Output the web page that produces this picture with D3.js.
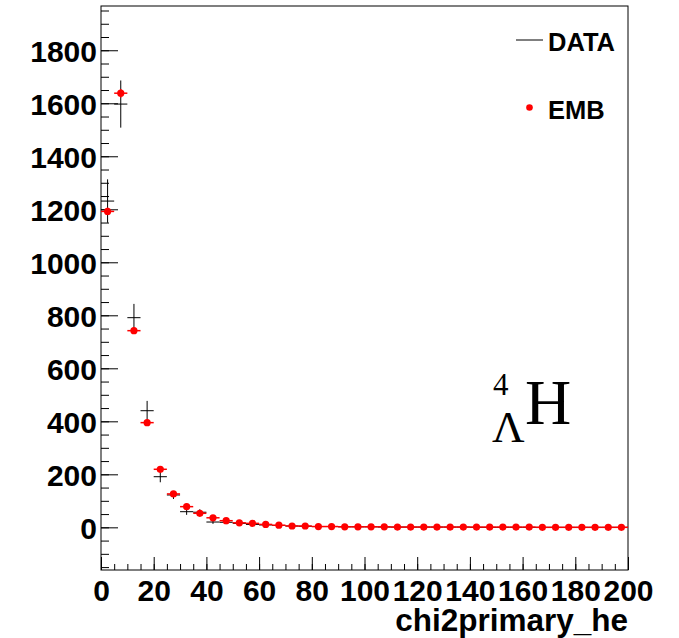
<!DOCTYPE html>
<html>
<head>
<meta charset="utf-8">
<script src="https://cdn.jsdelivr.net/npm/d3@7"></script>
<style>
  html, body { margin: 0; padding: 0; background: #fff; }
  svg { display: block; }
  .lbl { font-family: "Liberation Sans", Arial, Helvetica, sans-serif; font-weight: bold; fill: #000; }
  .tex { font-family: "Liberation Serif", "Times New Roman", serif; fill: #000; }
</style>
</head>
<body>
<svg id="chart" width="679" height="638"></svg>
<script>
// Histogram binning of chi2primary_he (bin width 5, range 0-200)
const binEdges = d3.range(0, 205, 5);
const binCenters = d3.range(2.5, 200, 5);

// Measured data counts and their uncertainties
const dataValues = [1231, 1597, 791, 440, 191, 122, 59, 57, 20, 19,
                    15, 11, 9, 7, 5, 4, 3, 3, 2, 2,
                    2, 1, 1, 1, 1, 1, 1, 1, 0, 0,
                    0, 0, 0, 0, 0, 0, 0, 0, 0, 0];
const dataErrors = [82, 89, 52, 37, 21, 15, 12, 11, 7, 7,
                    6, 5, 5, 4, 3, 3, 3, 3, 2, 2,
                    2, 1, 1, 1, 1, 1, 1, 1, 0, 0,
                    0, 0, 0, 0, 0, 0, 0, 0, 0, 0];

// Embedding (simulation) counts and their uncertainties
const embValues = [1192, 1638, 742, 395, 219, 126, 78, 53, 36, 25,
                   17, 15, 11, 8, 5, 5, 3, 3, 2, 2,
                   2, 2, 1, 1, 1, 1, 1, 1, 1, 1,
                   1, 1, 1, 0, 0, 0, 0, 0, 0, 0];
const embErrors = [14, 16, 10, 7, 5, 4, 3, 2, 2, 2,
                   1, 1, 1, 1, 1, 1, 1, 1, 1, 1,
                   1, 1, 1, 1, 1, 1, 1, 1, 1, 1,
                   1, 1, 1, 0, 0, 0, 0, 0, 0, 0];

// Axis ticks
const xMajorTicks = [0, 20, 40, 60, 80, 100, 120, 140, 160, 180, 200];
const xMinorTicks = d3.range(0, 201, 5);
const yMajorTicks = [0, 200, 400, 600, 800, 1000, 1200, 1400, 1600, 1800];
const yMinorTicks = d3.range(-150, 1951, 50);

const xTitle = "chi2primary_he";
const seriesNames = ["DATA", "EMB"];

const svg = d3.select("#chart");
const frame = { left: 101, right: 628, top: 6, bottom: 570 };

const x = d3.scaleLinear().domain([0, 200]).range([frame.left, frame.right]);
const y = d3.scaleLinear().domain([-161, 1967]).range([frame.bottom, frame.top]);

// Frame
svg.append("rect")
  .attr("x", frame.left).attr("y", frame.top)
  .attr("width", frame.right - frame.left).attr("height", frame.bottom - frame.top)
  .attr("fill", "none").attr("stroke", "#000").attr("stroke-width", 1);

// Y axis: inward ticks, labels on the left
const yAxisG = svg.append("g").attr("transform", `translate(${frame.left},0)`);
yAxisG.call(d3.axisLeft(y).tickValues(yMinorTicks).tickSize(-8).tickFormat(""))
  .call(g => g.select(".domain").remove());
yAxisG.append("g").call(d3.axisLeft(y).tickValues(yMajorTicks).tickSize(-17).tickFormat(d3.format("d")).tickPadding(4))
  .call(g => g.select(".domain").remove())
  .call(g => g.selectAll("text").attr("class", "lbl").style("font-size", "30px").attr("dy", "0.36em"));
yAxisG.selectAll("line").attr("stroke", "#000").attr("stroke-width", 1);

// X axis: inward ticks, labels below
const xAxisG = svg.append("g").attr("transform", `translate(0,${frame.bottom})`);
xAxisG.call(d3.axisBottom(x).tickValues(xMinorTicks).tickSize(-6).tickFormat(""))
  .call(g => g.select(".domain").remove());
xAxisG.append("g").call(d3.axisBottom(x).tickValues(xMajorTicks).tickSize(-13).tickFormat(d3.format("d")).tickPadding(10))
  .call(g => g.select(".domain").remove())
  .call(g => g.selectAll("text").attr("class", "lbl").style("font-size", "30px").attr("dy", "0.71em"));
xAxisG.selectAll("line").attr("stroke", "#000").attr("stroke-width", 1);

// X axis title
svg.append("text").attr("class", "lbl")
  .attr("x", frame.right).attr("y", 631)
  .attr("text-anchor", "end").style("font-size", "31.5px")
  .text(xTitle);

const halfBin = (binEdges[1] - binEdges[0]) / 2;

// DATA: horizontal bin-width bar + vertical error bar
const dataG = svg.append("g").attr("stroke", "#000").attr("stroke-width", 1);
binCenters.forEach((c, i) => {
  const v = dataValues[i], e = dataErrors[i];
  dataG.append("line")
    .attr("x1", x(c - halfBin)).attr("x2", x(c + halfBin))
    .attr("y1", y(v)).attr("y2", y(v));
  if (e > 0) {
    dataG.append("line")
      .attr("x1", x(c)).attr("x2", x(c))
      .attr("y1", y(v - e)).attr("y2", y(v + e));
  }
});

// EMB: red markers with bin-width bar and error bar
const embG = svg.append("g");
binCenters.forEach((c, i) => {
  const v = embValues[i], e = embErrors[i];
  embG.append("line").attr("stroke", "#ff0000").attr("stroke-width", 1.5)
    .attr("x1", x(c - halfBin)).attr("x2", x(c + halfBin))
    .attr("y1", y(v)).attr("y2", y(v));
  if (e > 0) {
    embG.append("line").attr("stroke", "#ff0000").attr("stroke-width", 1.5)
      .attr("x1", x(c)).attr("x2", x(c))
      .attr("y1", y(v - e)).attr("y2", y(v + e));
  }
  embG.append("circle").attr("cx", x(c)).attr("cy", y(v)).attr("r", 3.6).attr("fill", "#ff0000");
});

// Legend
const legend = svg.append("g");
legend.append("line").attr("x1", 516).attr("x2", 543).attr("y1", 40).attr("y2", 40)
  .attr("stroke", "#000").attr("stroke-width", 1);
legend.append("text").attr("class", "lbl").attr("x", 548).attr("y", 51)
  .style("font-size", "25.5px").text(seriesNames[0]);
legend.append("circle").attr("cx", 529.5).attr("cy", 107.5).attr("r", 3.3).attr("fill", "#ff0000");
legend.append("text").attr("class", "lbl").attr("x", 548).attr("y", 118.5)
  .style("font-size", "25.5px").text(seriesNames[1]);

// Hypernucleus label: 4 over Lambda, then H
const tex = svg.append("g").attr("class", "tex");
tex.append("text").attr("x", 493).attr("y", 395).style("font-size", "31px").text("4");
tex.append("text").attr("x", 492).attr("y", 442).style("font-size", "45px").text("Λ");
tex.append("text").attr("x", 525).attr("y", 423.5).style("font-size", "64px").text("H");
</script>
</body>
</html>
